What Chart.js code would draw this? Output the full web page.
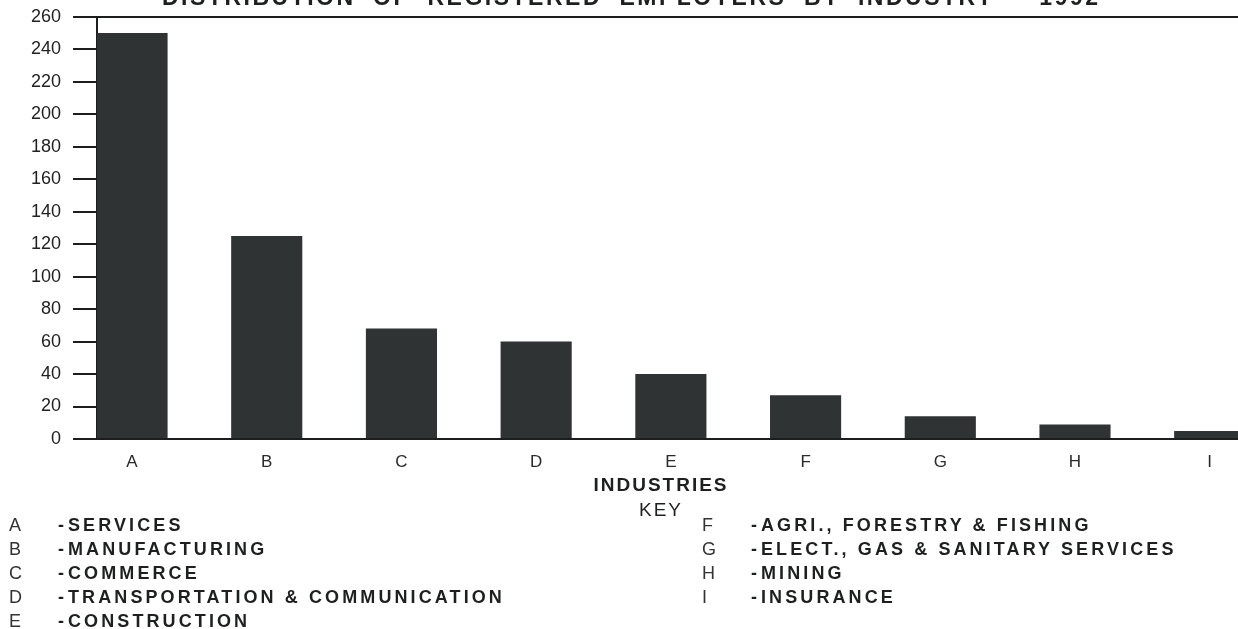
<!DOCTYPE html>
<html>
<head>
<meta charset="utf-8">
<script src="https://cdn.jsdelivr.net/npm/chart.js@4/dist/chart.umd.min.js"></script>
<style>
  html, body { margin: 0; padding: 0; background: #fff; }
  #wrap {
    position: relative; width: 1238px; height: 629px; overflow: hidden;
    font-family: 'Liberation Sans', Arial, sans-serif; color: #1e2020;
  }
  #chart { position: absolute; left: 0; top: -6px; }
  #title {
    position: absolute; left: 162px; top: -14px; white-space: nowrap;
    font-size: 23px; line-height: 23px; font-weight: bold;
    letter-spacing: 2.5px; word-spacing: 8.6px;
  }
  .axis-title {
    position: absolute; left: 561px; width: 200px; text-align: center;
    font-size: 19px; line-height: 24px; letter-spacing: 2px;
  }
  .key-col { position: absolute; top: 513px; }
  .key-row { position: relative; height: 24px; line-height: 24px; font-size: 18px; white-space: nowrap; }
  .key-row span { position: absolute; top: 0; }
  .key-row .code { left: 0; color: #333; }
  .key-row .dash { left: 49px; font-weight: bold; }
  .key-row .name { left: 59px; font-weight: bold; letter-spacing: 3.1px; }
</style>
</head>
<body>
<div id="wrap">
  <canvas id="chart" width="1238" height="629"></canvas>
  <div id="title"></div>
  <div class="axis-title" id="x-title" style="top:473px;font-weight:bold;"></div>
  <div class="axis-title" id="key-title" style="top:498px;"></div>
  <div class="key-col" id="key-left" style="left:9px;"></div>
  <div class="key-col" id="key-right" style="left:702px;"></div>
</div>
<script>
// ── Data ──────────────────────────────────────────────────────
const TITLE      = 'DISTRIBUTION OF REGISTERED EMPLOYERS BY INDUSTRY - 1992';
const X_TITLE    = 'INDUSTRIES';
const KEY_TITLE  = 'KEY';
const categories = ['A', 'B', 'C', 'D', 'E', 'F', 'G', 'H', 'I'];
const employers  = [250, 125, 68, 60, 40, 27, 14, 9, 5];
const industries = [
  'SERVICES', 'MANUFACTURING', 'COMMERCE', 'TRANSPORTATION & COMMUNICATION',
  'CONSTRUCTION', 'AGRI., FORESTRY & FISHING', 'ELECT., GAS & SANITARY SERVICES',
  'MINING', 'INSURANCE',
];
const yTicks = { min: 0, max: 260, step: 20 };

const INK = '#1c1e1e';
const BAR = '#2f3334';

// ── Text blocks ───────────────────────────────────────────────
document.getElementById('title').textContent     = TITLE;
document.getElementById('x-title').textContent   = X_TITLE;
document.getElementById('key-title').textContent = KEY_TITLE;

function fillKey(el, from, to) {
  for (let i = from; i < to; i++) {
    const row = document.createElement('div');
    row.className = 'key-row';
    row.innerHTML = `<span class="code"></span><span class="dash">-</span><span class="name"></span>`;
    row.querySelector('.code').textContent = categories[i];
    row.querySelector('.name').textContent = industries[i];
    el.appendChild(row);
  }
}
fillKey(document.getElementById('key-left'), 0, 5);
fillKey(document.getElementById('key-right'), 5, 9);

// ── Chart ─────────────────────────────────────────────────────
// canvas sits 6px above the page top, so the x axis block is 6px shorter
const font = { family: "'Liberation Sans', Arial, sans-serif", size: 18 };

new Chart(document.getElementById('chart'), {
  type: 'bar',
  data: {
    datasets: [{
      data: employers.map((v, i) => ({ x: i, y: v })),
      backgroundColor: BAR,
      borderWidth: 0,
      categoryPercentage: 1,
      barPercentage: 0.528,
    }],
  },
  options: {
    responsive: false,
    animation: false,
    devicePixelRatio: 1,
    layout: { padding: { top: 10, left: 0, right: 0, bottom: 0 } },
    plugins: { legend: { display: false }, tooltip: { enabled: false } },
    scales: {
      x: {
        type: 'linear',
        offset: false,
        min: -0.26,
        max: 8.21,
        afterBuildTicks: s => { s.ticks = categories.map((_, i) => ({ value: i })); },
        afterFit: s => { s.height = 184; },
        grid: { display: false },
        border: { display: true, color: INK, width: 2 },
        ticks: {
          color: '#2a2a2a',
          font: { ...font, size: 17 },
          padding: 5,
          autoSkip: false,
          maxRotation: 0,
          callback: v => categories[v] ?? '',
        },
      },
      y: {
        min: yTicks.min,
        max: yTicks.max,
        afterFit: s => { s.width = 97; },
        grid: {
          color: c => (c.tick && c.tick.value === yTicks.max ? INK : 'transparent'),
          tickColor: INK,
          tickLength: 24,
          lineWidth: 2,
        },
        border: { display: true, color: INK, width: 2 },
        ticks: {
          stepSize: yTicks.step,
          color: '#222',
          font,
          padding: 12,
        },
      },
    },
  },
});
</script>
</body>
</html>
